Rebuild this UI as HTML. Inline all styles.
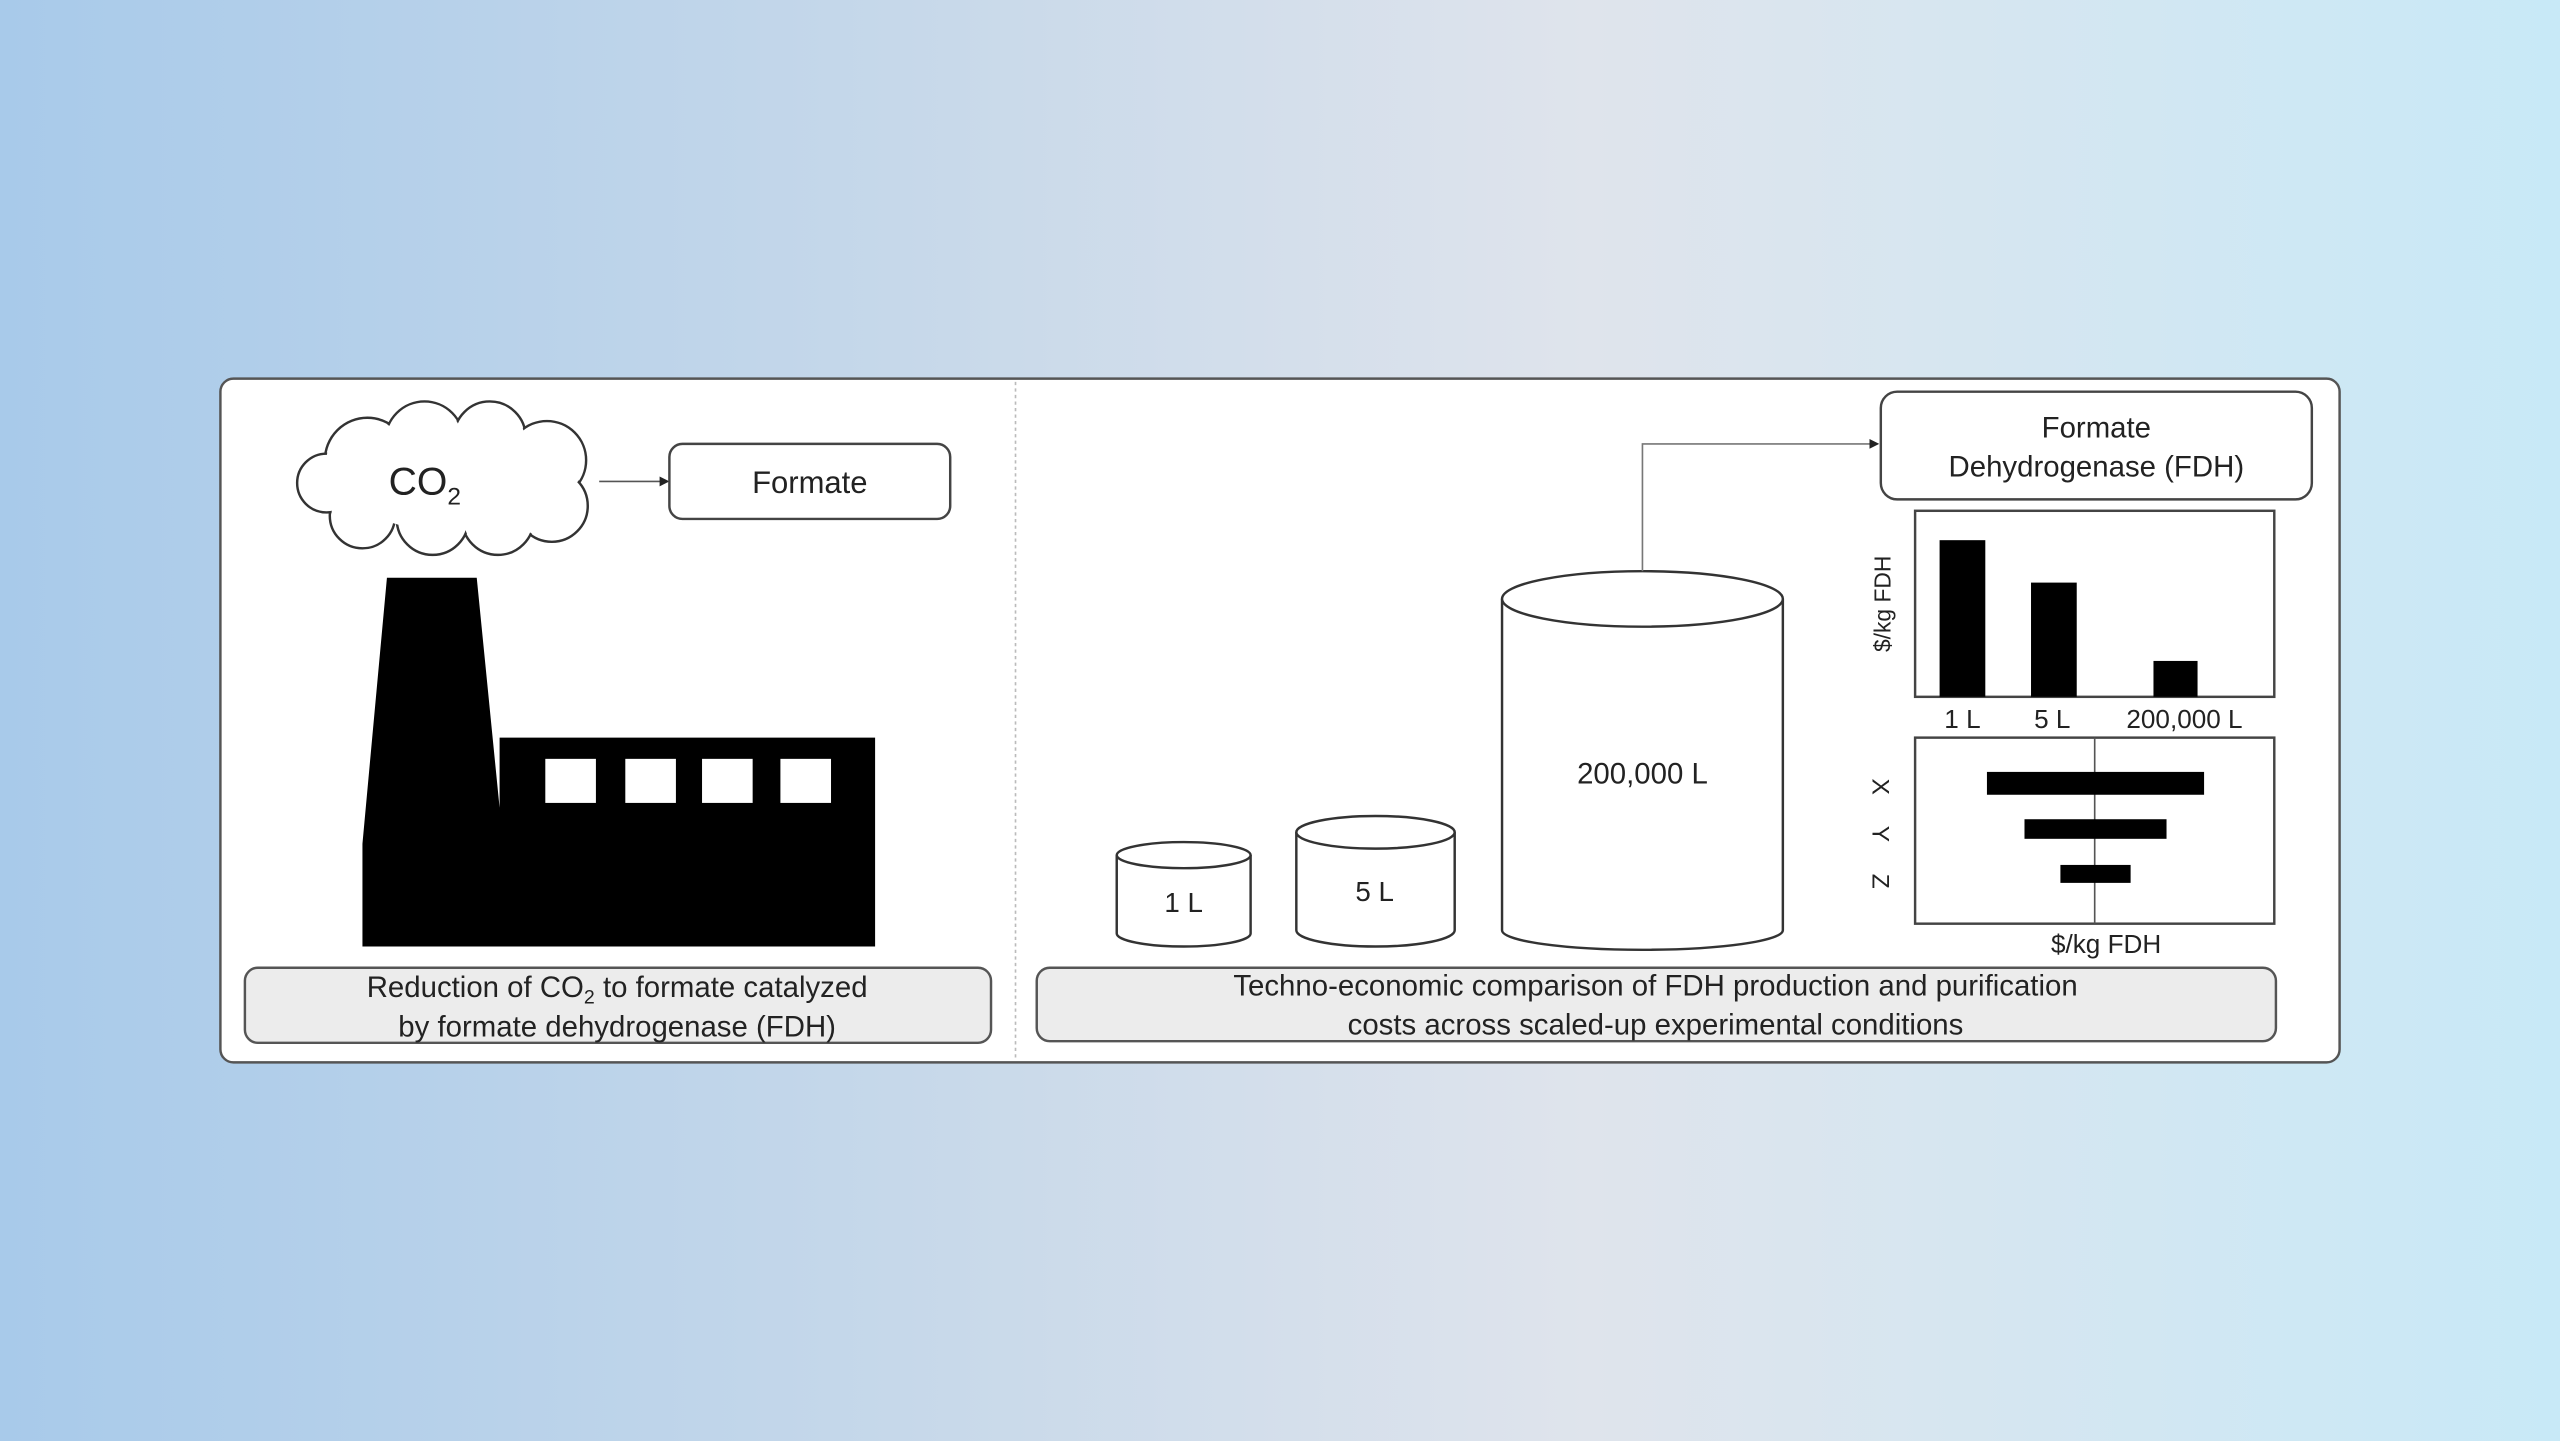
<!DOCTYPE html>
<html><head><meta charset="utf-8"><style>
html,body{margin:0;padding:0;width:2560px;height:1441px;overflow:hidden}
body{background:linear-gradient(90deg,#a8caea 0%,#c6d8ea 35%,#dfe4ec 62%,#c8e9f7 100%)}
svg{display:block}
text{font-family:"Liberation Sans",sans-serif;fill:#222}
</style></head><body>
<svg width="2560" height="1441" viewBox="0 0 1568 883" preserveAspectRatio="none">
<defs><marker id="a" markerWidth="6" markerHeight="6" refX="5" refY="3" orient="auto"><path d="M0,0 L6,3 L0,6z" fill="#222"/></marker></defs>
<rect x="135" y="232" width="1298" height="419" rx="8" fill="#fff" stroke="#555" stroke-width="1.5"/>
<line x1="622" y1="234" x2="622" y2="649" stroke="#bbb" stroke-width="1" stroke-dasharray="2,2"/>
<!-- cloud -->
<g stroke="#333" stroke-width="1.5" fill="#fff">
<circle cx="225" cy="282" r="26"/><circle cx="260" cy="270" r="24"/><circle cx="300" cy="268" r="22"/><circle cx="335" cy="282" r="24"/><circle cx="338" cy="310" r="22"/><circle cx="305" cy="318" r="22"/><circle cx="265" cy="318" r="22"/><circle cx="222" cy="316" r="20"/><circle cx="200" cy="296" r="18"/>
</g>
<g fill="#fff"><circle cx="225" cy="282" r="25"/><circle cx="260" cy="270" r="23"/><circle cx="300" cy="268" r="21"/><circle cx="335" cy="282" r="23"/><circle cx="338" cy="310" r="21"/><circle cx="305" cy="318" r="21"/><circle cx="265" cy="318" r="21"/><circle cx="222" cy="316" r="19"/><circle cx="200" cy="296" r="17"/><ellipse cx="272" cy="295" rx="60" ry="30"/></g>
<text x="238" y="303" font-size="24">CO<tspan font-size="15" dy="6">2</tspan></text>
<line x1="367" y1="295" x2="409" y2="295" stroke="#555" stroke-width="1" marker-end="url(#a)"/>
<rect x="410" y="272" width="172" height="46" rx="8" fill="#fff" stroke="#444" stroke-width="1.5"/>
<text x="496" y="302" font-size="19" text-anchor="middle">Formate</text>
<!-- factory -->
<path d="M237,354 L292,354 L306,495 L306,452 L536,452 L536,580 L222,580 L222,517 Z" fill="#000"/>
<g fill="#fff"><rect x="334" y="465" width="31" height="27"/><rect x="383" y="465" width="31" height="27"/><rect x="430" y="465" width="31" height="27"/><rect x="478" y="465" width="31" height="27"/></g>
<rect x="150" y="593" width="457" height="46" rx="8" fill="#ececec" stroke="#555" stroke-width="1.5"/>
<text x="378" y="611" font-size="18" text-anchor="middle">Reduction of CO<tspan font-size="12" dy="4">2</tspan><tspan dy="-4"> to formate catalyzed</tspan></text>
<text x="378" y="635" font-size="18" text-anchor="middle">by formate dehydrogenase (FDH)</text>
<!-- cylinders -->
<g fill="#fff" stroke="#333" stroke-width="1.5">
<path d="M684,524 L684,572 A41,8 0 0 0 766,572 L766,524"/><ellipse cx="725" cy="524" rx="41" ry="8"/>
<path d="M794,510 L794,570 A48.5,10 0 0 0 891,570 L891,510"/><ellipse cx="842.5" cy="510" rx="48.5" ry="10"/>
<path d="M920,367 L920,570 A86,12 0 0 0 1092,570 L1092,367"/><ellipse cx="1006" cy="367" rx="86" ry="17"/>
</g>
<text x="725" y="559" font-size="17" text-anchor="middle">1 L</text>
<text x="842" y="552" font-size="17" text-anchor="middle">5 L</text>
<text x="1006" y="480" font-size="18" text-anchor="middle">200,000 L</text>
<polyline points="1006,350 1006,272 1150,272" fill="none" stroke="#777" stroke-width="1" marker-end="url(#a)"/>
<rect x="1152" y="240" width="264" height="66" rx="10" fill="#fff" stroke="#444" stroke-width="1.5"/>
<text x="1284" y="268" font-size="18" text-anchor="middle">Formate</text>
<text x="1284" y="292" font-size="18" text-anchor="middle">Dehydrogenase (FDH)</text>
<!-- bar chart -->
<rect x="1173" y="313" width="220" height="114" fill="#fff" stroke="#444" stroke-width="1.5"/>
<rect x="1188" y="331" width="28" height="96" fill="#000"/>
<rect x="1244" y="357" width="28" height="70" fill="#000"/>
<rect x="1319" y="405" width="27" height="22" fill="#000"/>
<text transform="translate(1158,370) rotate(-90)" font-size="14" text-anchor="middle">$/kg FDH</text>
<text x="1202" y="446" font-size="16" text-anchor="middle">1 L</text>
<text x="1257" y="446" font-size="16" text-anchor="middle">5 L</text>
<text x="1338" y="446" font-size="16" text-anchor="middle">200,000 L</text>
<!-- tornado -->
<rect x="1173" y="452" width="220" height="114" fill="#fff" stroke="#444" stroke-width="1.5"/>
<line x1="1283" y1="452" x2="1283" y2="566" stroke="#555" stroke-width="1"/>
<rect x="1217" y="473" width="133" height="14" fill="#000"/>
<rect x="1240" y="502" width="87" height="12" fill="#000"/>
<rect x="1262" y="530" width="43" height="11" fill="#000"/>
<text transform="translate(1147,482) rotate(90)" font-size="15" text-anchor="middle">X</text>
<text transform="translate(1147,511) rotate(90)" font-size="15" text-anchor="middle">Y</text>
<text transform="translate(1147,540) rotate(90)" font-size="15" text-anchor="middle">Z</text>
<text x="1290" y="584" font-size="16" text-anchor="middle">$/kg FDH</text>
<rect x="635" y="593" width="759" height="45" rx="8" fill="#ececec" stroke="#555" stroke-width="1.5"/>
<text x="1014" y="610" font-size="18" text-anchor="middle">Techno-economic comparison of FDH production and purification</text>
<text x="1014" y="634" font-size="18" text-anchor="middle">costs across scaled-up experimental conditions</text>
</svg>
</body></html>
